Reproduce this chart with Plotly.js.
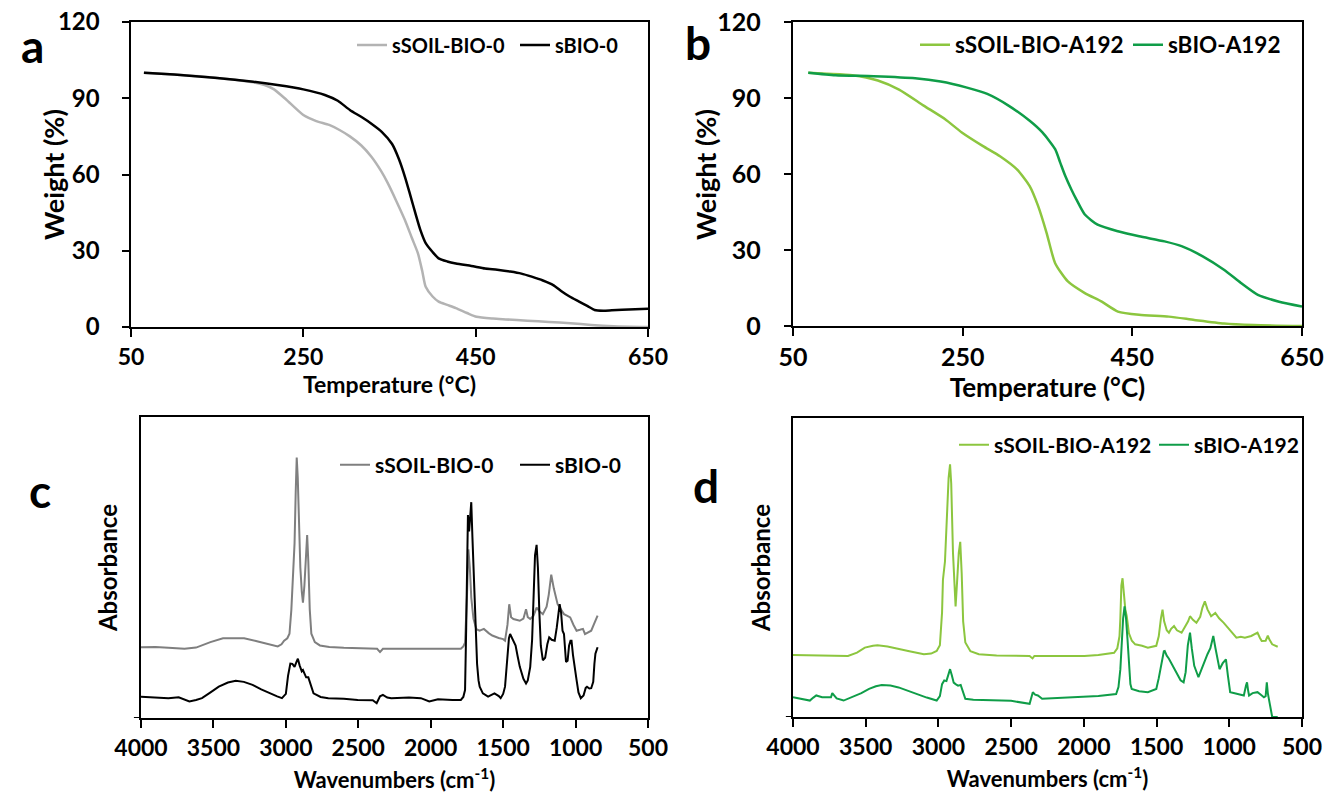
<!DOCTYPE html>
<html>
<head>
<meta charset="utf-8">
<script src="https://cdn.plot.ly/plotly-3.0.1.min.js"></script>
<style>html,body{margin:0;padding:0;background:#fff;}#chart{width:1324px;height:793px;}</style>
</head>
<body>
<div id="chart"></div>
<script>
// ---------- Panel a : TGA (temperature °C vs weight %) ----------
var aSoilT = [65, 100, 150, 192, 205, 216, 230, 250, 265, 280, 292, 304, 317, 329, 340, 348, 358, 368, 376, 383, 388, 392, 400, 407, 417, 427, 440, 451, 470, 485, 510, 535, 560, 584, 610, 650];
var aSoilW = [100, 99.3, 98, 96.3, 95.2, 93.5, 89.5, 83.4, 81, 79.5, 77.5, 75, 71.5, 67, 61.5, 56.6, 49.5, 42, 35, 29, 22, 15.8, 12, 10, 8.7, 7.4, 5.5, 4, 3.3, 3, 2.5, 2, 1.5, 0.8, 0.3, 0];
var aBioT = [65, 100, 150, 192, 220, 250, 275, 290, 304, 318, 329, 341, 353, 361, 368, 374, 380, 386, 392, 400, 407, 417, 427, 445, 461, 475, 490, 503, 515, 528, 540, 550, 559, 570, 580, 588, 598, 608, 620, 635, 650];
var aBioW = [100, 99.3, 98, 96.5, 95.2, 93.5, 91.3, 89, 85.4, 82.5, 80, 76.8, 72, 66, 59, 52, 44.8, 38, 33, 29.5, 27, 25.8, 25, 24, 23, 22.5, 21.8, 21, 19.8, 18.3, 16.5, 14, 12, 10, 8.2, 6.7, 6.4, 6.6, 6.8, 7, 7.2];

// ---------- Panel b : TGA ----------
var bSoilT = [68, 90, 120, 150, 175, 204, 229, 249, 274, 294, 314, 329, 339, 349, 359, 374, 394, 414, 433, 458, 493, 523, 558, 593, 650];
var bSoilW = [100, 99.6, 99, 96.9, 93.3, 87, 81.7, 76.4, 71, 67, 61.8, 55.2, 47.3, 36.7, 24.8, 17.6, 13, 9.6, 5.7, 4.4, 3.7, 2.4, 1, 0.4, 0];
var bBioT = [68, 100, 145, 194, 224, 254, 279, 304, 329, 344, 359, 365, 371, 378, 384, 394, 409, 433, 458, 488, 508, 533, 558, 578, 598, 623, 650];
var bBioW = [100, 99, 98.6, 97.8, 96.5, 94.2, 91.6, 87, 81, 76.4, 69.8, 64.5, 59.2, 54, 50, 44, 40, 37.4, 35.4, 33.4, 31.5, 27.5, 22.2, 17, 12.3, 9.6, 7.7];

// ---------- Panel c : FTIR (wavenumber cm-1 vs absorbance, a.u.) ----------
var cSoilWn = [4000, 3900, 3811, 3700, 3620, 3521, 3434, 3350, 3288, 3200, 3120, 3056, 3030, 3012, 2990, 2975, 2962, 2950, 2940, 2932, 2925, 2918, 2910, 2900, 2890, 2882, 2872, 2862, 2853, 2845, 2835, 2824, 2800, 2765, 2700, 2600, 2450, 2370, 2359, 2350, 2330, 2200, 2068, 1900, 1792, 1775, 1763, 1750, 1740, 1730, 1720, 1705, 1685, 1662, 1633, 1600, 1575, 1531, 1500, 1487, 1470, 1458, 1445, 1429, 1400, 1385, 1360, 1342, 1330, 1313, 1290, 1269, 1250, 1226, 1200, 1185, 1168, 1150, 1124, 1100, 1080, 1060, 1037, 1015, 993, 970, 949, 935, 915, 892, 870, 848];
var cSoilA = [23.5, 23.6, 23.3, 23, 23.4, 25.2, 26.5, 26.6, 26.5, 25.5, 24.5, 23.8, 24.5, 25.7, 26.5, 28, 36, 48, 58, 75, 86.5, 80, 62, 50, 42, 38.3, 44, 55, 60.8, 52, 36, 28, 25.2, 24.1, 23.6, 23.3, 23.1, 23, 22.4, 21.9, 23, 23, 22.9, 23, 23, 23.8, 25, 40, 56, 50, 40, 33, 29.5, 29, 29.6, 28.2, 27.4, 26.6, 26.2, 25.7, 31, 37.8, 33.5, 32.9, 32.5, 32.3, 33, 36.1, 33.5, 32.9, 34, 36.7, 35.5, 34.5, 37, 41, 47.6, 43, 37.8, 36, 34.5, 34, 33.4, 31, 29, 29.3, 29.6, 27.9, 28.5, 29, 31.5, 34];
var cBioWn = [4000, 3900, 3811, 3740, 3666, 3620, 3579, 3520, 3463, 3400, 3346, 3290, 3230, 3170, 3114, 3060, 3027, 3000, 2985, 2969, 2955, 2940, 2928, 2917, 2905, 2890, 2882, 2860, 2845, 2838, 2820, 2809, 2760, 2707, 2600, 2504, 2400, 2373, 2350, 2330, 2300, 2272, 2150, 2068, 2010, 1950, 1850, 1792, 1775, 1763, 1755, 1748, 1743, 1735, 1728, 1720, 1712, 1700, 1691, 1680, 1670, 1662, 1640, 1604, 1560, 1530, 1517, 1500, 1487, 1470, 1460, 1452, 1440, 1430, 1414, 1400, 1385, 1360, 1342, 1330, 1313, 1300, 1290, 1280, 1269, 1260, 1250, 1240, 1226, 1210, 1195, 1182, 1165, 1144, 1130, 1120, 1110, 1100, 1090, 1080, 1072, 1066, 1055, 1045, 1035, 1028, 1018, 1005, 993, 980, 964, 945, 930, 921, 905, 892, 878, 870, 863, 848];
var cBioA = [7.1, 6.8, 6.6, 6.9, 5.5, 6, 6.6, 8.5, 10.4, 11.8, 12.4, 12, 11, 9.5, 8.2, 7.2, 6.6, 8, 14, 18.1, 18, 17, 18.5, 19.7, 17.5, 15.5, 15.9, 13.5, 13.5, 12.6, 10, 8.2, 7, 6.6, 6.4, 6, 5.9, 4.9, 7.2, 7.7, 6.8, 6.6, 6.8, 6.6, 5.5, 6.2, 6, 6, 7, 9.3, 30, 58, 67.4, 62, 68, 71.7, 60, 45, 33.4, 18, 12.5, 10.4, 8.2, 7.1, 8.2, 7.3, 6.6, 8, 10.4, 20, 26.5, 27.9, 26.5, 25.5, 24.1, 20.5, 17, 13, 11.5, 12.5, 17, 26, 42, 54, 57.5, 50, 35, 24, 19.2, 20, 24.5, 26.8, 26, 25.7, 30, 35, 37.8, 35, 29, 27.9, 22, 18.6, 19, 24, 25.7, 25.7, 21, 16, 12.6, 8.5, 6.6, 7.5, 10, 10.4, 9.8, 9.9, 12, 18, 21.4, 23.5];

// ---------- Panel d : FTIR ----------
var dSoilWn = [4000, 3900, 3800, 3739, 3622, 3560, 3506, 3450, 3419, 3350, 3274, 3200, 3100, 3050, 3012, 2990, 2975, 2969, 2955, 2940, 2930, 2920, 2912, 2900, 2890, 2882, 2872, 2860, 2850, 2840, 2830, 2815, 2780, 2722, 2600, 2450, 2373, 2353, 2340, 2200, 1996, 1900, 1792, 1770, 1755, 1749, 1742, 1734, 1725, 1715, 1705, 1690, 1670, 1647, 1600, 1560, 1502, 1485, 1470, 1459, 1448, 1430, 1415, 1400, 1380, 1360, 1328, 1300, 1283, 1270, 1250, 1226, 1200, 1185, 1168, 1150, 1125, 1096, 1070, 1038, 1010, 980, 951, 920, 893, 849, 820, 806, 790, 777, 750, 735, 725, 705, 667];
var dSoilA = [20.7, 20.6, 20.5, 20.4, 20.4, 21.5, 23.2, 23.8, 24, 23.6, 22.9, 22, 21, 21.2, 22.1, 24, 35, 45.9, 52, 68, 80, 84.5, 78, 55, 42, 37, 45, 55, 58.6, 48, 32, 24.9, 22, 21, 20.6, 20.5, 20.4, 19.6, 20.4, 20.4, 20.4, 20.7, 21.5, 23, 27, 33, 44, 46.4, 42, 36, 33.7, 28, 25.5, 24.3, 23.8, 23.2, 23.8, 27, 33, 35.9, 32, 29, 28.2, 29.5, 30.4, 29, 28.2, 30.5, 32, 33.7, 32.5, 31.5, 33.5, 36.5, 38.7, 36, 33.7, 34.8, 33, 31.5, 30, 28.2, 26.5, 26.8, 26.5, 27.1, 28, 28.2, 26.5, 25.4, 25.5, 27.2, 26, 24.3, 23.5];
var dBioWn = [4000, 3950, 3884, 3860, 3840, 3800, 3739, 3730, 3724, 3700, 3652, 3594, 3530, 3477, 3430, 3390, 3330, 3274, 3210, 3158, 3080, 3012, 2990, 2975, 2960, 2945, 2930, 2920, 2908, 2895, 2882, 2865, 2847, 2830, 2815, 2760, 2635, 2500, 2373, 2360, 2351, 2335, 2316, 2287, 2150, 1996, 1900, 1778, 1762, 1749, 1740, 1730, 1720, 1710, 1700, 1690, 1680, 1671, 1620, 1560, 1502, 1485, 1465, 1450, 1444, 1430, 1415, 1401, 1380, 1357, 1335, 1314, 1300, 1285, 1270, 1258, 1241, 1212, 1195, 1168, 1150, 1130, 1110, 1095, 1080, 1067, 1045, 1023, 1010, 994, 970, 936, 900, 885, 878, 871, 864, 840, 806, 785, 762, 750, 742, 735, 725, 719, 705, 667];
var dBioA = [6.6, 6.2, 5.5, 6.5, 7.2, 6.6, 6.6, 8, 7.7, 6.2, 5.5, 6.6, 8, 9.4, 10.3, 10.7, 10.5, 9.9, 8.8, 7.7, 6.5, 5.5, 7, 11, 12.2, 12, 14, 16, 14, 11.5, 11, 10.5, 10.7, 8, 6.1, 5.8, 5.5, 5.4, 4.4, 6.5, 8.3, 7.5, 7.2, 6.1, 6.4, 6.6, 7, 7.7, 10, 16, 24, 33, 37, 33, 26, 16, 11, 9.4, 8.6, 8.3, 9.4, 13, 19, 22, 22.1, 20.5, 19.5, 18.2, 16, 13.8, 12.3, 11.6, 15, 24, 28.2, 23, 17.1, 13.3, 15.5, 19.3, 21, 23, 27.1, 23, 18.5, 16, 18, 19.3, 14, 8.3, 8, 7.7, 7.2, 10.5, 11.6, 9, 7.2, 8, 8.3, 7.5, 6.6, 7, 11.6, 8, 5, 2.8, 0, 0];

var tgaTicksX = [50, 250, 450, 650];
var tgaTicksY = [0, 30, 60, 90, 120];
var ftirTicksX = [4000, 3500, 3000, 2500, 2000, 1500, 1000, 500];

var names = {soil0: 'sSOIL-BIO-0', bio0: 'sBIO-0', soilA: 'sSOIL-BIO-A192', bioA: 'sBIO-A192'};
var weightTitle = 'Weight (%)';

var cGrayLight = '#b3b3b3', cGrayDark = '#7f7f7f', cBlack = '#000000', cGreenLight = '#8cc63f', cGreenDark = '#0f9d48';

var FONT = 'Lato, "Open Sans", sans-serif';
var PAD = '\u00a0\u00a0\u00a0'; // keeps the y tick labels clear of the ticks, as in the reference

var tgaLine = function (c) { return {color: c, width: 2.5, shape: 'spline', smoothing: 0.6}; };
var irLine = function (c) { return {color: c, width: 2}; };

var traces = [
  {x: aSoilT, y: aSoilW, name: names.soil0, mode: 'lines', line: tgaLine(cGrayLight), xaxis: 'x', yaxis: 'y', legend: 'legend'},
  {x: aBioT, y: aBioW, name: names.bio0, mode: 'lines', line: tgaLine(cBlack), xaxis: 'x', yaxis: 'y', legend: 'legend', legendwidth: 70},
  {x: bSoilT, y: bSoilW, name: names.soilA, mode: 'lines', line: tgaLine(cGreenLight), xaxis: 'x2', yaxis: 'y2', legend: 'legend2'},
  {x: bBioT, y: bBioW, name: names.bioA, mode: 'lines', line: tgaLine(cGreenDark), xaxis: 'x2', yaxis: 'y2', legend: 'legend2', legendwidth: 115},
  {x: cSoilWn, y: cSoilA, name: names.soil0, mode: 'lines', line: irLine(cGrayDark), xaxis: 'x3', yaxis: 'y3', legend: 'legend3'},
  {x: cBioWn, y: cBioA, name: names.bio0, mode: 'lines', line: irLine(cBlack), xaxis: 'x3', yaxis: 'y3', legend: 'legend3', legendwidth: 70},
  {x: dSoilWn, y: dSoilA, name: names.soilA, mode: 'lines', line: irLine(cGreenLight), xaxis: 'x4', yaxis: 'y4', legend: 'legend4'},
  {x: dBioWn, y: dBioA, name: names.bioA, mode: 'lines', line: irLine(cGreenDark), xaxis: 'x4', yaxis: 'y4', legend: 'legend4', legendwidth: 105}
];

var W = 1324, H = 793;
function px(v) { return v / W; }
function py(v) { return 1 - v / H; }
function bold(size) { return {family: FONT, size: size, color: '#000', weight: 'bold'}; }

function xAxis(dom, rng, ticks, title, fs, tfs, anchor, titleStand) {
  return {
    domain: dom, range: rng, tickvals: ticks, ticktext: ticks.map(String),
    showline: true, linecolor: '#000', linewidth: 2, mirror: true,
    ticks: 'outside', ticklen: 8, tickwidth: 2, tickcolor: '#000',
    showgrid: false, zeroline: false, anchor: anchor, automargin: false,
    tickfont: bold(fs),
    title: {text: title, font: bold(tfs), standoff: titleStand},
    fixedrange: true
  };
}
function yAxisTGA(dom, fs, anchor) {
  return {
    domain: dom, range: [0, 120], tickvals: tgaTicksY, ticktext: tgaTicksY.map(function (v) { return v + PAD; }),
    showline: true, linecolor: '#000', linewidth: 2, mirror: true,
    ticks: 'outside', ticklen: 7, tickwidth: 2, tickcolor: '#000',
    showgrid: false, zeroline: false, anchor: anchor, automargin: false,
    tickfont: bold(fs),
    fixedrange: true
  };
}
function yAxisFTIR(dom, anchor, titleStand) {
  return {
    domain: dom, range: [0, 100], showticklabels: false, ticks: '',
    showline: true, linecolor: '#000', linewidth: 2, mirror: true,
    showgrid: false, zeroline: false, anchor: anchor, automargin: false,
    title: {text: 'Absorbance', font: bold(24), standoff: titleStand},
    fixedrange: true
  };
}
function legendAt(x, y, fs, ew) {
  return {orientation: 'h', x: x, y: y, xanchor: 'left', yanchor: 'middle',
    bgcolor: 'rgba(0,0,0,0)', borderwidth: 0, entrywidth: ew, entrywidthmode: 'pixels',
    font: bold(fs), tracegroupgap: 0};
}
function letter(t, x, y) {
  return {text: t, x: px(x), y: py(y), xref: 'paper', yref: 'paper', xanchor: 'center', yanchor: 'middle',
    showarrow: false, font: bold(46)};
}
function yTitle(t, x, y) {
  return {text: t, x: px(x), y: py(y), xref: 'paper', yref: 'paper', xanchor: 'center', yanchor: 'middle',
    textangle: -90, showarrow: false, font: bold(27)};
}

var layout = {
  width: W, height: H,
  margin: {l: 0, r: 0, t: 0, b: 0, autoexpand: false},
  paper_bgcolor: '#fff', plot_bgcolor: '#fff',
  font: {family: FONT, color: '#000'},
  xaxis: xAxis([px(131), px(648)], [50, 650], tgaTicksX, 'Temperature (°C)', 23, 23, 'y', 7),
  yaxis: yAxisTGA([py(327), py(22)], 24, 'x'),
  xaxis2: xAxis([px(793), px(1302)], [50, 650], tgaTicksX, 'Temperature (°C)', 25, 26, 'y2', 2),
  yaxis2: yAxisTGA([py(326), py(22)], 25, 'x2'),
  xaxis3: xAxis([px(141), px(648)], [4000, 500], ftirTicksX, 'Wavenumbers (cm<sup>-1</sup>)', 23, 22, 'y3', 13),
  yaxis3: yAxisFTIR([py(718), py(417)], 'x3', 15),
  xaxis4: xAxis([px(793), px(1302)], [4000, 500], ftirTicksX, 'Wavenumbers (cm<sup>-1</sup>)', 23, 22, 'y4', 13),
  yaxis4: yAxisFTIR([py(717), py(418)], 'x4', 14),
  legend: legendAt(px(352), py(45), 20, 118),
  legend2: legendAt(px(915), py(45), 22.5, 168),
  legend3: legendAt(px(335), py(465), 21, 135),
  legend4: legendAt(px(954), py(445), 21, 155),
  showlegend: true,
  annotations: [
    letter('a', 32, 45), letter('b', 698, 42), letter('c', 40, 490), letter('d', 706, 486),
    yTitle(weightTitle, 53, 175), yTitle(weightTitle, 706, 174)
  ],
  shapes: [
    // short overhang of the baseline to the left of the absorbance axes, as in the reference
    {type: 'line', xref: 'x3 domain', yref: 'y3', x0: -0.014, x1: 0, y0: 0, y1: 0, line: {color: '#000', width: 2}},
    {type: 'line', xref: 'x4 domain', yref: 'y4', x0: -0.014, x1: 0, y0: 0, y1: 0, line: {color: '#000', width: 2}}
  ]
};

Plotly.newPlot('chart', traces, layout, {displayModeBar: false, staticPlot: true}).then(function () {
  // drop empty placeholder text nodes (e.g. unused legend titles)
  document.querySelectorAll('#chart text').forEach(function (t) {
    if (!t.textContent.trim()) { t.parentNode.removeChild(t); }
  });
});
</script>
</body>
</html>
